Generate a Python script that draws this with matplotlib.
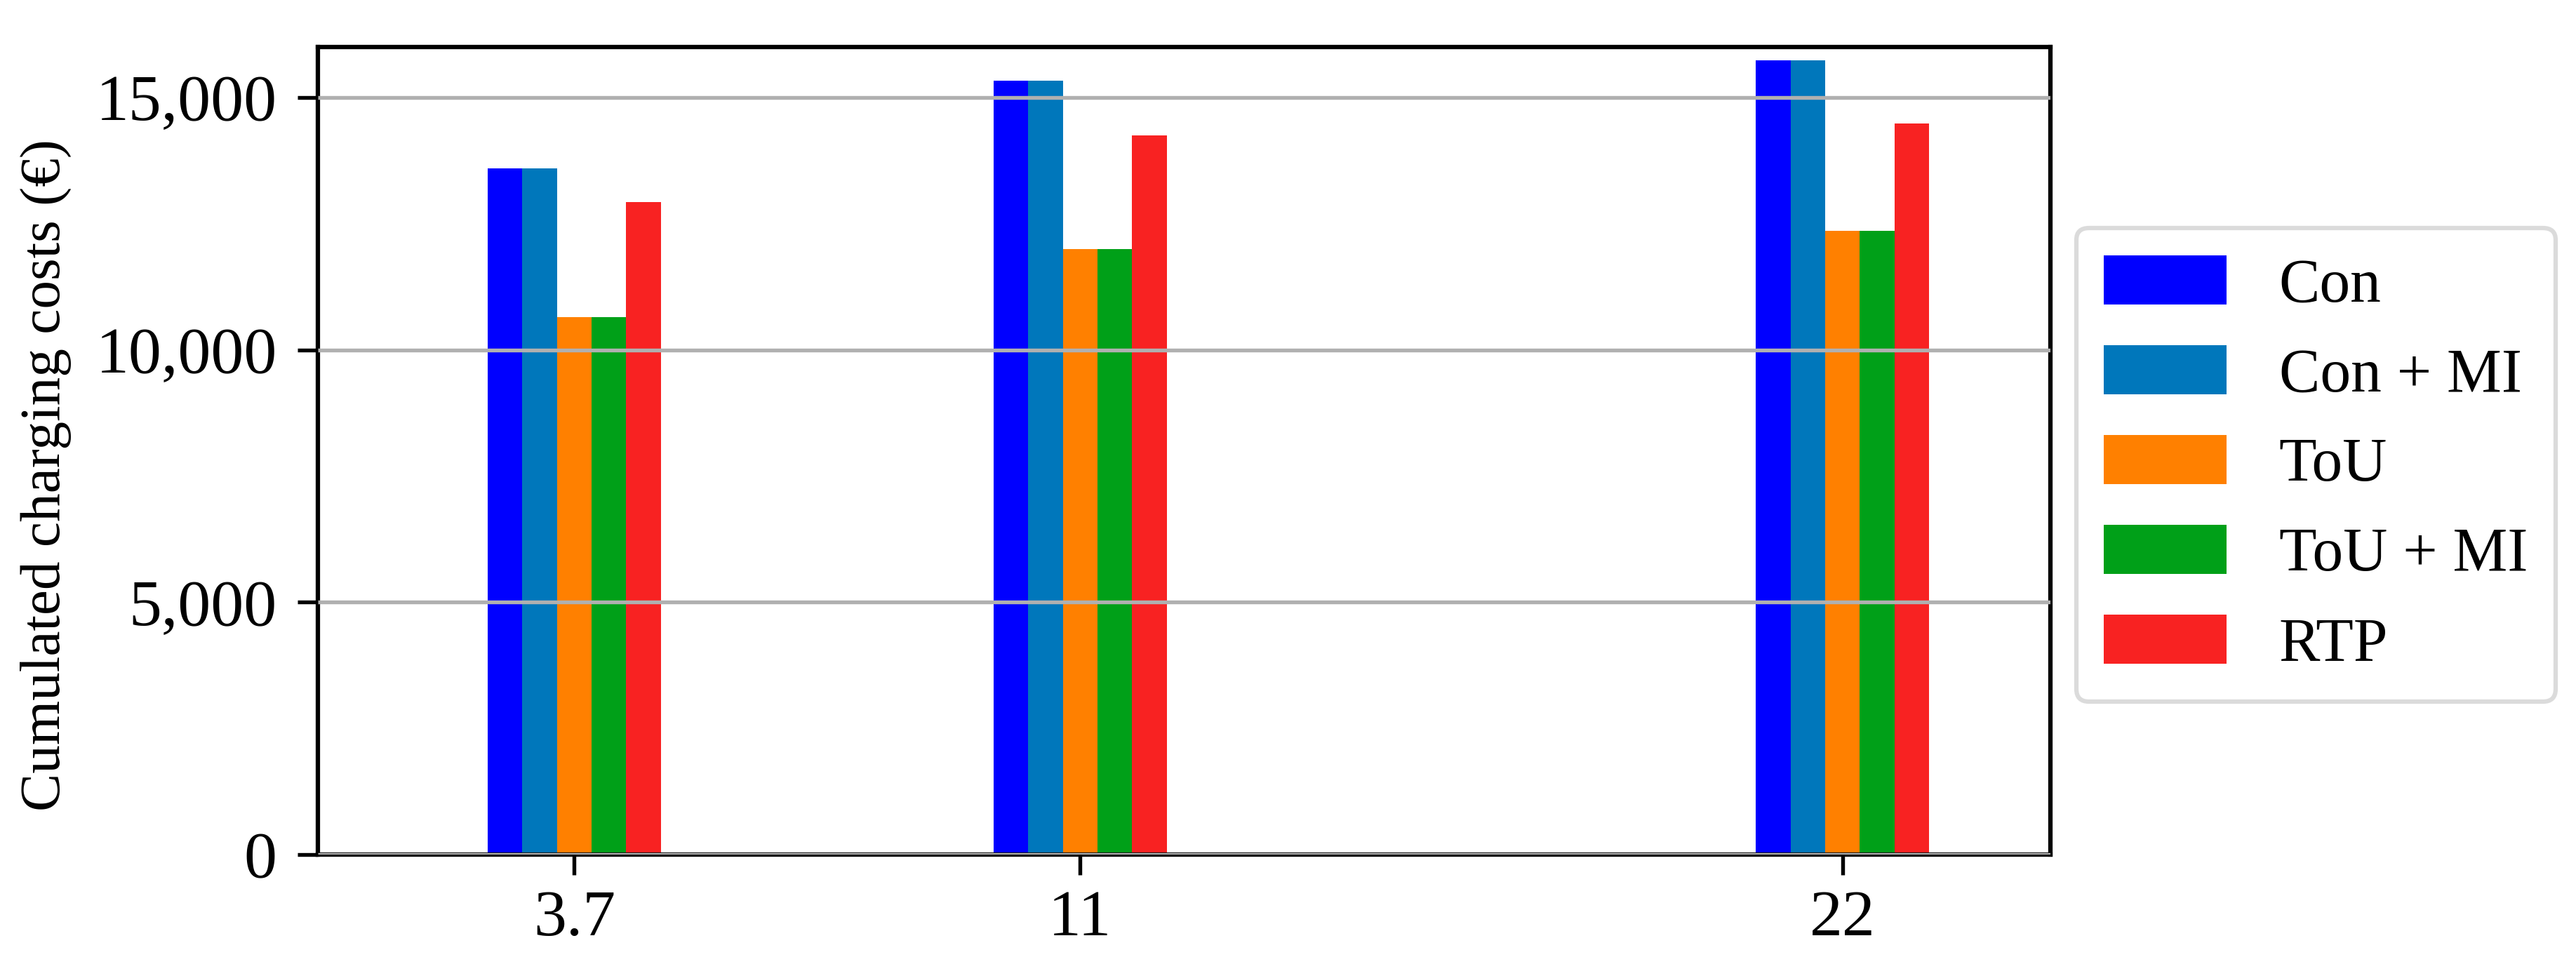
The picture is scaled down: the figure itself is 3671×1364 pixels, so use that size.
import matplotlib
matplotlib.use("Agg")
import matplotlib.pyplot as plt
import numpy as np

# charging power (kW) -> cumulated charging costs (EUR)
power = [3.7, 11, 22]
power_labels = ["3.7", "11", "22"]
con = [13600, 15330, 15740]
con_mi = [13600, 15330, 15740]
tou = [10650, 11990, 12360]
tou_mi = [10650, 11990, 12360]
rtp = [12930, 14250, 14490]

series_names = ["Con", "Con + MI", "ToU", "ToU + MI", "RTP"]
series_colors = ["#0000FF", "#0077BB", "#FF8000", "#00A018", "#F82222"]

plt.rcParams['font.family'] = ['Liberation Serif', 'DejaVu Serif']
plt.rcParams['font.size'] = 20.5

fig = plt.figure(figsize=(3671 / 300, 1364 / 300), dpi=300)
ax = fig.add_axes([453 / 3671, 1 - 1218 / 1364, (2922 - 453) / 3671, (1218 - 67) / 1364])

width = 0.5
x = np.array(power)
all_series = [con, con_mi, tou, tou_mi, rtp]
for i, (vals, name, col) in enumerate(zip(all_series, series_names, series_colors)):
    ax.bar(x + (i - 2) * width, vals, width=width, color=col, label=name, zorder=1)

ax.set_xlim(0, 25)
ax.set_ylim(0, 16000)
ax.set_xticks(power)
ax.set_xticklabels(power_labels)
ax.set_yticks([0, 5000, 10000, 15000])
ax.set_yticklabels(["0", "5,000", "10,000", "15,000"])
ax.set_ylabel("Cumulated charging costs (€)", fontsize=19.5)
ax.yaxis.set_label_coords(-0.142, 0.47)

ax.grid(axis='y', color='#b0b0b0', linewidth=1.3, zorder=2)
ax.set_axisbelow(False)
for sp in ax.spines.values():
    sp.set_linewidth(1.5)
ax.tick_params(axis='both', length=7, width=1.3, direction='out', labelsize=22.5)
ax.tick_params(axis='y', pad=7)
ax.tick_params(axis='x', pad=5)

leg = ax.legend(loc='upper left', bbox_to_anchor=(1.015, 0.776), borderaxespad=0,
                frameon=True, handlelength=2.0, handleheight=0.85, handletextpad=0.85,
                labelspacing=0.5, borderpad=0.45, fontsize=21)
leg.get_frame().set_edgecolor('#d3d3d3')
leg.get_frame().set_linewidth(1.5)

fig.savefig("out.png", dpi=300)
